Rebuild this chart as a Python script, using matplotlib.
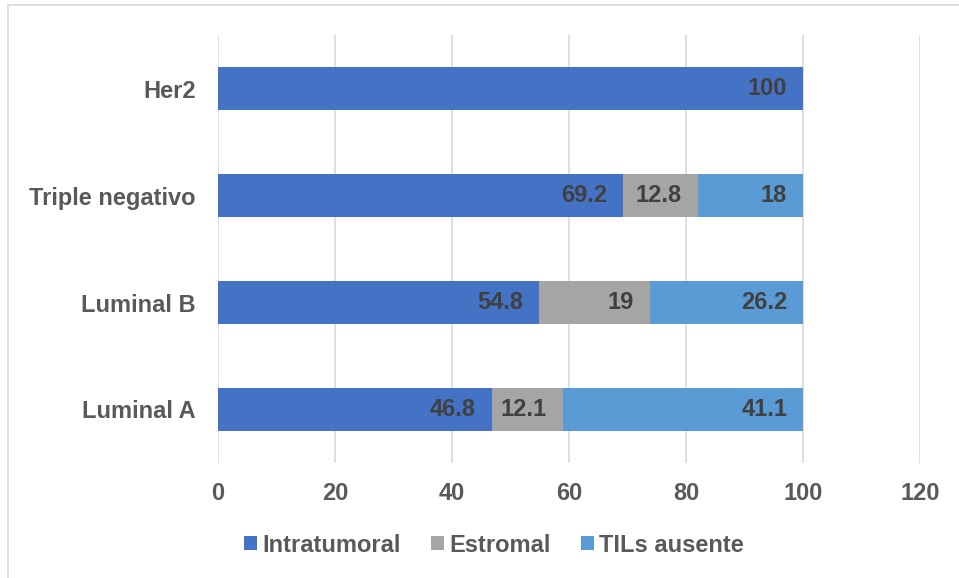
import matplotlib
matplotlib.use("Agg")
import matplotlib.pyplot as plt
from matplotlib.patches import Rectangle

categories = ["Luminal A", "Luminal B", "Triple negativo", "Her2"]
intratumoral = [46.8, 54.8, 69.2, 100]
estromal = [12.1, 19, 12.8, 0]
tils_ausente = [41.1, 26.2, 18, 0]
series_names = ["Intratumoral", "Estromal", "TILs ausente"]
x_ticks = [0, 20, 40, 60, 80, 100, 120]

colors = ["#4472C4", "#A5A5A5", "#5B9BD5"]
text_color = "#595959"
label_color = "#404040"

plt.rcParams["font.family"] = ["Liberation Sans", "DejaVu Sans"]
plt.rcParams["font.weight"] = "bold"

W, H = 959, 578
fig = plt.figure(figsize=(W / 100, H / 100), dpi=100)
ax = fig.add_axes([218 / W, 1 - 463 / H, (920 - 218) / W, (463 - 35) / H])

# chart border
fig.patches.append(Rectangle((8 / W, -0.05), 1.1, 1 - 5 / H + 0.05,
                             transform=fig.transFigure, fill=False,
                             edgecolor="#D9D9D9", linewidth=1.2))

ypos = list(range(len(categories)))
left = [0.0] * len(categories)
for vals, name, col in zip([intratumoral, estromal, tils_ausente], series_names, colors):
    bars = ax.barh(ypos, vals, left=left, height=0.4, color=col, label=name, zorder=3)
    for b, v, l in zip(bars, vals, left):
        if v > 0:
            ax.text(l + v - 2.7, b.get_y() + b.get_height() / 2, f"{v:g}",
                    ha="right", va="center", color=label_color,
                    fontsize=17, fontweight="bold", zorder=4)
    left = [a + b for a, b in zip(left, vals)]

ax.set_xlim(0, 120)
ax.set_ylim(-0.5, len(categories) - 0.5)
ax.set_xticks(x_ticks)
ax.set_xticklabels([str(t) for t in x_ticks])
ax.set_yticks(ypos)
ax.set_yticklabels(categories)
ax.xaxis.grid(True, color="#D9D9D9", linewidth=1.2, zorder=0)
ax.set_axisbelow(True)
for s in ax.spines.values():
    s.set_visible(False)
ax.tick_params(axis="both", length=0, labelsize=17, labelcolor=text_color)
ax.tick_params(axis="x", pad=14)
ax.tick_params(axis="y", pad=16)

fig.legend(loc="center", bbox_to_anchor=(494 / W, 1 - 545 / H), ncol=3,
           frameon=False, fontsize=17, labelcolor=text_color,
           handlelength=0.55, handleheight=0.55, handletextpad=0.2,
           columnspacing=1.3)

fig.savefig("out.png", dpi=100)
